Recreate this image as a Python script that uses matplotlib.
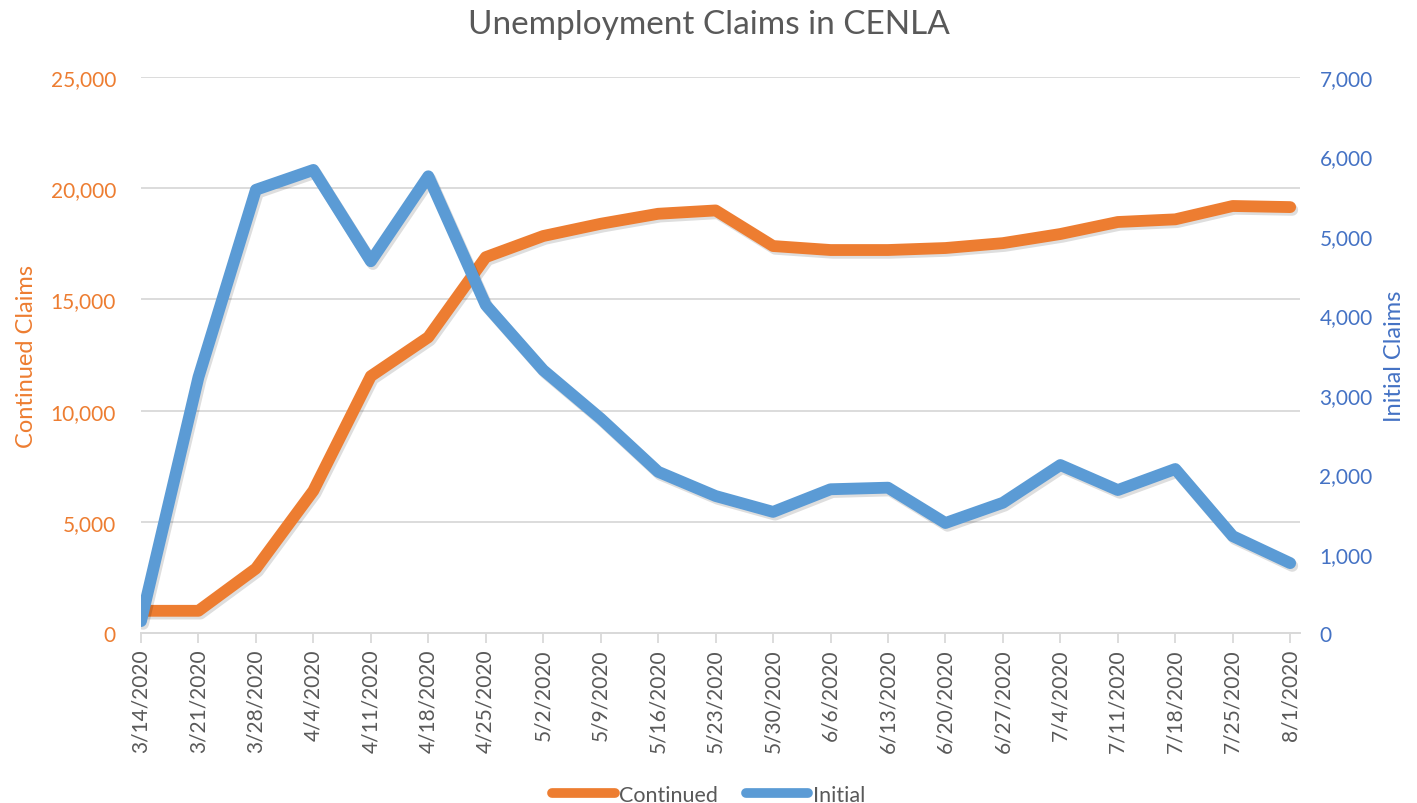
import matplotlib
matplotlib.use("Agg")
import matplotlib.pyplot as plt
import matplotlib.patheffects as pe
from matplotlib.ticker import FuncFormatter

plt.rcParams['font.family'] = ['Lato', 'DejaVu Sans']

# weekly dates and claims
dates = ["3/14/2020", "3/21/2020", "3/28/2020", "4/4/2020", "4/11/2020", "4/18/2020",
         "4/25/2020", "5/2/2020", "5/9/2020", "5/16/2020", "5/23/2020", "5/30/2020",
         "6/6/2020", "6/13/2020", "6/20/2020", "6/27/2020", "7/4/2020", "7/11/2020",
         "7/18/2020", "7/25/2020", "8/1/2020"]
continued = [1000, 1000, 2900, 6400, 11550, 13300, 16900, 17850, 18400, 18850, 19000,
             17400, 17220, 17220, 17310, 17530, 17940, 18480, 18600, 19200, 19150]
initial = [150, 3220, 5580, 5830, 4680, 5750, 4130, 3310, 2700, 2030, 1725,
           1525, 1810, 1830, 1385, 1640, 2115, 1800, 2065, 1220, 880]

ORANGE = "#ED7D31"
BLUE = "#5B9BD5"
BLUE_TXT = "#4472C4"
GREY = "#595959"
GRID = "#D9D9D9"

fig = plt.figure(figsize=(14.17, 8.04), dpi=100)
ax = fig.add_axes([0.0995, 0.2114, 0.8179, 0.6916])
ax2 = ax.twinx()

shadow = [pe.SimpleLineShadow(offset=(1.5, -2), shadow_color="black", alpha=0.13),
          pe.Normal()]

x = list(range(len(dates)))
l1, = ax.plot(x, continued, color=ORANGE, lw=8.5, solid_capstyle="round",
              solid_joinstyle="round", path_effects=shadow, label="Continued")
l2, = ax2.plot(x, initial, color=BLUE, lw=8.5, solid_capstyle="round",
               solid_joinstyle="round", path_effects=shadow, label="Initial")

ax.set_xlim(0, 20.17)
ax.set_ylim(0, 25000)
ax2.set_ylim(0, 7000)
ax.set_yticks(range(0, 25001, 5000))
ax2.set_yticks(range(0, 7001, 1000))
fmt = FuncFormatter(lambda v, p: f"{int(v):,}")
ax.yaxis.set_major_formatter(fmt)
ax2.yaxis.set_major_formatter(fmt)

ax.set_xticks(x)
ax.set_xticklabels(dates, rotation=90, fontsize=15, color=GREY)
ax.tick_params(axis="x", length=7, color=GRID, width=1.3, pad=4)
ax.tick_params(axis="y", length=0, labelsize=15, labelcolor=ORANGE, pad=18)
ax2.tick_params(axis="y", length=0, labelsize=15, labelcolor=BLUE_TXT, pad=14)

ax.grid(axis="y", color=GRID, lw=1.3)
ax.set_axisbelow(True)
for a in (ax, ax2):
    for s in ("top", "left", "right"):
        a.spines[s].set_visible(False)
    a.spines["bottom"].set_color(GRID)
    a.spines["bottom"].set_linewidth(1.3)

ax.set_ylabel("Continued Claims", fontsize=17, color=ORANGE, labelpad=10)
ax2.set_ylabel("Initial Claims", fontsize=17, color=BLUE_TXT, labelpad=8)
fig.suptitle("Unemployment Claims in CENLA", fontsize=24, color=GREY, y=0.987)

leg = fig.legend(handles=[l1, l2], loc="lower center", bbox_to_anchor=(0.5, -0.026),
                 ncol=2, frameon=False, fontsize=15.5, handlelength=2.9,
                 handletextpad=0.2, columnspacing=1.3)
for t in leg.get_texts():
    t.set_color(GREY)
for h in leg.legend_handles:
    h.set_path_effects([])
    h.set_linewidth(7)

fig.savefig("out.png", dpi=100)
